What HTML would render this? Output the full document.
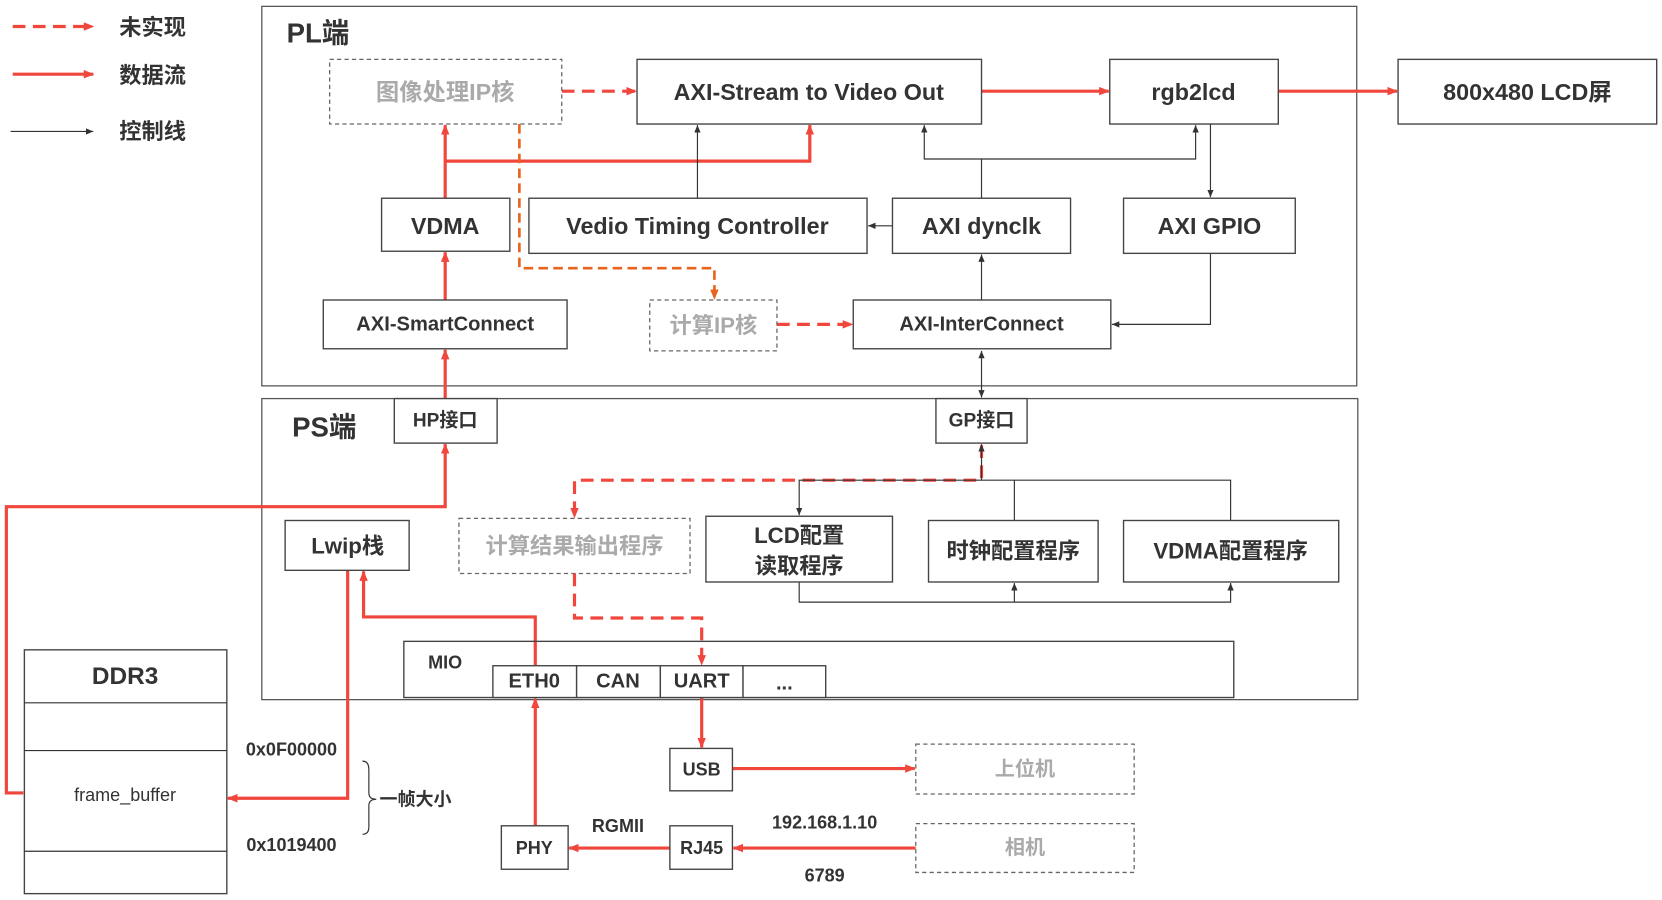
<!DOCTYPE html>
<html><head><meta charset="utf-8"><style>
html,body{margin:0;padding:0;background:#fff;width:1662px;height:900px;overflow:hidden}
svg{display:block}
text{font-family:"Liberation Sans","Noto Sans CJK SC",sans-serif;font-weight:bold;fill:#333;text-anchor:middle;dominant-baseline:central}
.b{fill:#fff;stroke:#444;stroke-width:1.3}
.d{fill:#fff;stroke:#666;stroke-width:1.2;stroke-dasharray:4,3}
.g{fill:#aaa}
.r{stroke:#f0463c;stroke-width:3;fill:none}
.rd{stroke:#f0463c;stroke-width:3;fill:none;stroke-dasharray:12,7}
.od{stroke:#e8641e;stroke-width:2.5;fill:none;stroke-dasharray:9,5}
.k{stroke:#333;stroke-width:1.1;fill:none}
</style></head><body>
<svg width="1662" height="900" viewBox="0 0 1568 849" preserveAspectRatio="none">
<defs>
<marker id="ar" markerWidth="10" markerHeight="8" refX="9" refY="4" orient="auto" markerUnits="userSpaceOnUse"><path d="M0,0L10,4L0,8z" fill="#f0463c"/></marker>
<marker id="ao" markerWidth="10" markerHeight="8" refX="9" refY="4" orient="auto" markerUnits="userSpaceOnUse"><path d="M0,0L10,4L0,8z" fill="#e8641e"/></marker>
<marker id="ak" markerWidth="7" markerHeight="6" refX="7" refY="3" orient="auto" markerUnits="userSpaceOnUse"><path d="M0,0L7,3L0,6z" fill="#333"/></marker>
<marker id="aks" markerWidth="7" markerHeight="6" refX="0" refY="3" orient="auto" markerUnits="userSpaceOnUse"><path d="M7,0L0,3L7,6z" fill="#333"/></marker>
</defs>
<line class="rd" x1="12" y1="25" x2="88" y2="25" marker-end="url(#ar)"/>
<text x="144" y="26" font-size="21">未实现</text>
<line class="r" x1="12" y1="70" x2="88" y2="70" marker-end="url(#ar)"/>
<text x="144" y="71" font-size="21">数据流</text>
<line class="k" x1="10" y1="124" x2="88" y2="124" marker-end="url(#ak)"/>
<text x="144" y="124" font-size="21">控制线</text>
<rect x="247" y="6" width="1033" height="358" fill="none" stroke="#555" stroke-width="1.2"/>
<text x="300" y="31" font-size="26">PL端</text>
<rect x="247" y="376" width="1034" height="284" fill="none" stroke="#555" stroke-width="1.2"/>
<text x="306" y="403" font-size="26">PS端</text>
<line class="rd" x1="530" y1="86" x2="600" y2="86" marker-end="url(#ar)"/>
<line class="r" x1="926" y1="86" x2="1046" y2="86" marker-end="url(#ar)"/>
<line class="r" x1="1206" y1="86" x2="1318" y2="86" marker-end="url(#ar)"/>
<line class="r" x1="420" y1="187" x2="420" y2="118" marker-end="url(#ar)"/>
<polyline class="r" points="420,152 764,152 764,118" marker-end="url(#ar)"/>
<line class="r" x1="420" y1="283" x2="420" y2="238" marker-end="url(#ar)"/>
<line class="r" x1="420" y1="376" x2="420" y2="330" marker-end="url(#ar)"/>
<polyline class="r" points="22,748 6,748 6,478 420,478 420,419" marker-end="url(#ar)"/>
<polyline class="r" points="328,538 328,753 215,753" marker-end="url(#ar)"/>
<polyline class="r" points="505,628 505,582 343,582 343,539" marker-end="url(#ar)"/>
<line class="r" x1="505" y1="779" x2="505" y2="659" marker-end="url(#ar)"/>
<line class="r" x1="632" y1="800" x2="537" y2="800" marker-end="url(#ar)"/>
<line class="r" x1="864" y1="800" x2="692" y2="800" marker-end="url(#ar)"/>
<line class="r" x1="662" y1="658" x2="662" y2="705" marker-end="url(#ar)"/>
<line class="r" x1="691" y1="725" x2="863" y2="725" marker-end="url(#ar)"/>
<polyline class="od" points="490,117 490,253 674,253 674,282" marker-end="url(#ao)"/>
<line class="rd" x1="733" y1="306" x2="804" y2="306" marker-end="url(#ar)"/>
<polyline class="rd" points="926,420 926,453 542,453 542,488" marker-end="url(#ar)"/>
<line class="k" x1="658" y1="187" x2="658" y2="118" marker-end="url(#ak)"/>
<polyline class="k" points="926,187 926,150 872,150 872,118" marker-end="url(#ak)"/>
<polyline class="k" points="926,150 1128,150 1128,118" marker-end="url(#ak)"/>
<line class="k" x1="1142" y1="117" x2="1142" y2="186" marker-end="url(#ak)"/>
<line class="k" x1="842" y1="213" x2="819" y2="213" marker-end="url(#ak)"/>
<line class="k" x1="926" y1="283" x2="926" y2="240" marker-end="url(#ak)"/>
<polyline class="k" points="1142,239 1142,306 1049,306" marker-end="url(#ak)"/>
<line class="k" x1="926" y1="331" x2="926" y2="375" marker-start="url(#aks)" marker-end="url(#ak)"/>
<line class="k" x1="926" y1="453" x2="926" y2="419" marker-end="url(#ak)"/>
<polyline class="k" points="754,486 754,453 1161,453 1161,491" marker-start="url(#aks)"/>
<line class="k" x1="957" y1="453" x2="957" y2="491"/>
<polyline class="k" points="754,549 754,568 1161,568 1161,550" marker-end="url(#ak)"/>
<line class="k" x1="957" y1="568" x2="957" y2="550" marker-end="url(#ak)"/>
<rect class="d" x="311" y="56" width="219" height="61"/><text class="g" x="420" y="87" font-size="22">图像处理IP核</text>
<rect class="b" x="601" y="56" width="325" height="61"/><text x="763" y="87" font-size="22">AXI-Stream to Video Out</text>
<rect class="b" x="1047" y="56" width="159" height="61"/><text x="1126" y="87" font-size="22">rgb2lcd</text>
<rect class="b" x="1319" y="56" width="244" height="61"/><text x="1441" y="87" font-size="22">800x480 LCD屏</text>
<rect class="b" x="360" y="187" width="121" height="50"/><text x="420" y="213" font-size="22">VDMA</text>
<rect class="b" x="499" y="187" width="319" height="52"/><text x="658" y="213" font-size="22">Vedio Timing Controller</text>
<rect class="b" x="842" y="187" width="168" height="52"/><text x="926" y="213" font-size="22">AXI dynclk</text>
<rect class="b" x="1060" y="187" width="162" height="52"/><text x="1141" y="213" font-size="22">AXI GPIO</text>
<rect class="b" x="305" y="283" width="230" height="46"/><text x="420" y="306" font-size="19">AXI-SmartConnect</text>
<rect class="d" x="613" y="283" width="120" height="48"/><text class="g" x="673" y="307" font-size="21">计算IP核</text>
<rect class="b" x="805" y="283" width="243" height="46"/><text x="926" y="306" font-size="19">AXI-InterConnect</text>
<rect class="b" x="372" y="376" width="97" height="42"/><text x="420" y="397" font-size="18">HP接口</text>
<rect class="b" x="883" y="376" width="86" height="42"/><text x="926" y="397" font-size="18">GP接口</text>
<rect class="b" x="269" y="491" width="117" height="47"/><text x="328" y="515" font-size="21">Lwip栈</text>
<rect class="d" x="433" y="489" width="218" height="52"/><text class="g" x="542" y="515" font-size="21">计算结果输出程序</text>
<rect class="b" x="666" y="487" width="176" height="62"/><text x="754" y="505" font-size="21">LCD配置</text><text x="754" y="534" font-size="21">读取程序</text>
<rect class="b" x="876" y="491" width="160" height="58"/><text x="956" y="520" font-size="21">时钟配置程序</text>
<rect class="b" x="1060" y="491" width="203" height="58"/><text x="1161" y="520" font-size="21">VDMA配置程序</text>
<rect x="381" y="605" width="783" height="53" fill="none" stroke="#444" stroke-width="1.3"/><text x="420" y="625" font-size="17">MIO</text>
<polyline class="rd" points="542,541 542,583 662,583 662,627" marker-end="url(#ar)"/>
<rect class="b" x="465" y="628" width="79" height="30"/><text x="504" y="643" font-size="19">ETH0</text>
<rect class="b" x="544" y="628" width="79" height="30"/><text x="583" y="643" font-size="19">CAN</text>
<rect class="b" x="623" y="628" width="78" height="30"/><text x="662" y="643" font-size="19">UART</text>
<rect class="b" x="701" y="628" width="78" height="30"/><text x="740" y="645" font-size="19">...</text>
<rect class="b" x="632" y="706" width="59" height="40"/><text x="662" y="726" font-size="17">USB</text>
<rect class="d" x="864" y="702" width="206" height="47"/><text class="g" x="967" y="726" font-size="19">上位机</text>
<rect class="d" x="864" y="777" width="206" height="46"/><text class="g" x="967" y="800" font-size="19">相机</text>
<rect class="b" x="473" y="779" width="63" height="41"/><text x="504" y="800" font-size="17">PHY</text>
<rect class="b" x="632" y="779" width="59" height="41"/><text x="662" y="800" font-size="17">RJ45</text>
<text x="583" y="779" font-size="17">RGMII</text>
<text x="778" y="776" font-size="17">192.168.1.10</text>
<text x="778" y="826" font-size="17">6789</text>
<rect class="b" x="23" y="613" width="191" height="230"/>
<line class="k" x1="23" y1="663" x2="214" y2="663"/>
<line class="k" x1="23" y1="708" x2="214" y2="708"/>
<line class="k" x1="23" y1="803" x2="214" y2="803"/>
<text x="118" y="638" font-size="23">DDR3</text>
<text x="118" y="750" font-size="17" style="font-weight:normal">frame_buffer</text>
<text x="275" y="707" font-size="17">0x0F00000</text>
<text x="275" y="797" font-size="17">0x1019400</text>
<path d="M342,718 Q348,718 348,726 L348,748 Q348,754 355,754 Q348,754 348,760 L348,780 Q348,787 342,787" fill="none" stroke="#333" stroke-width="1.1"/>
<text x="392" y="754" font-size="17">一帧大小</text>
</svg>
</body></html>
